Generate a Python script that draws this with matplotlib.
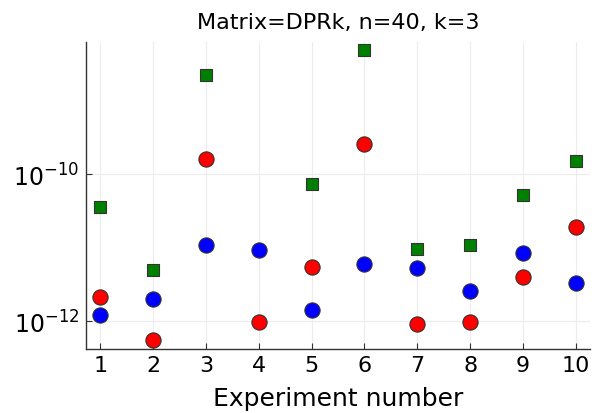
import numpy as np
import matplotlib
matplotlib.use("Agg")
import matplotlib.pyplot as plt
from matplotlib.ticker import NullLocator, LogFormatterMathtext

experiments = np.arange(1, 11)
# log10 of the error values
green_log = [-10.45, -11.30, -8.66, np.nan, -10.13, -8.32, -11.02, -10.96, -10.28, -9.82]
red_log = [-11.67, -12.26, -9.79, -12.01, -11.27, -9.59, -12.04, -12.01, -11.40, -10.72]
blue_log = [-11.91, -11.70, -10.96, -11.03, -11.85, -11.22, -11.28, -11.59, -11.08, -11.48]

green = 10.0 ** np.array(green_log)
red = 10.0 ** np.array(red_log)
blue = 10.0 ** np.array(blue_log)

fig = plt.figure(figsize=(5.94, 4.14), dpi=100)
ax = fig.add_axes([0.145, 0.1546, 0.848, 0.7414])

edge = "#333333"
ax.scatter(experiments, green, marker="s", s=70, color="green",
           edgecolor=edge, linewidth=0.8, zorder=3)
ax.scatter(experiments, red, marker="o", s=120, color="red",
           edgecolor=edge, linewidth=0.8, zorder=3)
ax.scatter(experiments, blue, marker="o", s=120, color="blue",
           edgecolor=edge, linewidth=0.8, zorder=3)

ax.set_yscale("log")
ax.set_ylim(10 ** -12.378, 10 ** -8.207)
ax.set_xlim(0.735, 10.265)
ax.set_xticks(experiments)
ax.set_yticks([1e-12, 1e-10])
ax.yaxis.set_major_formatter(LogFormatterMathtext())
ax.yaxis.set_minor_locator(NullLocator())

ax.grid(True, color="#ececec", linewidth=0.8, zorder=0)
for side in ("top", "right"):
    ax.spines[side].set_visible(False)
for side in ("left", "bottom"):
    ax.spines[side].set_color("#333333")
    ax.spines[side].set_linewidth(1.0)
ax.tick_params(direction="in", length=4, color="#333333", labelsize=16)
ax.tick_params(axis="y", labelsize=17, pad=5)
ax.tick_params(axis="x", pad=4)

ax.set_xlabel("Experiment number", fontsize=18, labelpad=8)
ax.set_title("Matrix=DPRk, n=40, k=3", fontsize=16, pad=10)

fig.savefig("out.png", dpi=100)
